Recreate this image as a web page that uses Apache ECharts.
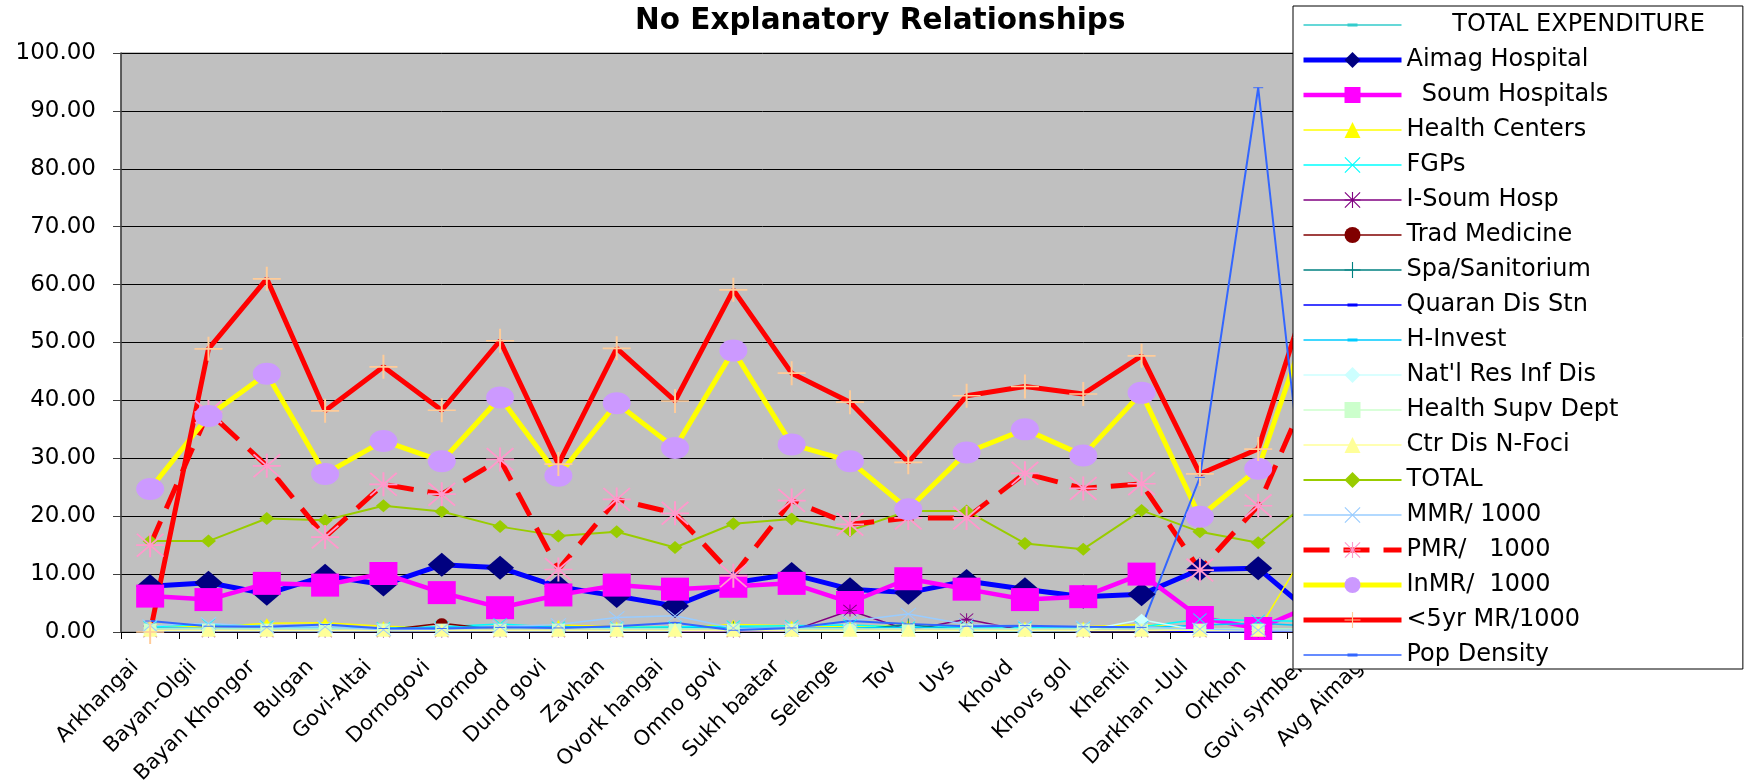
<!DOCTYPE html>
<html>
<head>
<meta charset="utf-8">
<script src="https://cdn.jsdelivr.net/npm/echarts@6/dist/echarts.min.js"></script>
<style>
html,body{margin:0;padding:0;background:#fff;}
#chart{width:1763px;height:781px;}
</style>
</head>
<body>
<div id="chart"></div>
<script>
// ---- data ----
const categories = ['Arkhangai','Bayan-Olgii','Bayan Khongor','Bulgan','Govi-Altai','Dornogovi','Dornod','Dund govi','Zavhan','Ovork hangai','Omno govi','Sukh baatar','Selenge','Tov','Uvs','Khovd','Khovs gol','Khentii','Darkhan -Uul','Orkhon','Govi symber','Avg Aimag'];
const yTicks = [0,10,20,30,40,50,60,70,80,90,100];

const totalExpenditure = [0.5,0.5,0.5,0.5,0.5,0.5,0.5,0.5,0.5,0.5,0.5,0.5,0.5,0.5,0.5,0.5,0.5,0.5,0.5,0.5,0.5,0.5];
const aimagHospital   = [7.9,8.5,6.6,9.7,8.2,11.6,11.1,7.8,6.2,4.5,8.5,10.0,7.4,6.8,8.8,7.4,6.1,6.5,10.8,11.0,2.5,8.2];
const soumHospitals   = [6.2,5.6,8.4,8.1,10.1,6.8,4.2,6.4,8.1,7.4,7.9,8.4,5.1,9.2,7.4,5.6,6.1,10.0,2.5,0.6,4.9,6.6];
const healthCenters   = [1.2,0.8,1.5,1.6,1.0,0.7,0.8,1.2,0.9,0.8,1.3,1.1,0.9,1.2,1.1,0.9,0.9,1.3,0.5,0.3,17.0,1.5];
const fgps            = [0.9,1.3,1.0,0.8,0.7,0.9,1.4,0.8,0.8,0.9,1.0,1.1,1.2,0.8,0.9,0.8,0.8,0.9,2.2,2.0,1.8,1.0];
const iSoumHosp       = [0.1,0.1,0.1,0.1,0.1,0.1,0.1,0.1,0.1,0.1,0.1,0.2,3.7,0.3,2.2,0.2,0.1,0.1,0.1,0.1,0.1,0.4];
const tradMedicine    = [0.3,0.3,0.3,0.3,0.3,1.5,0.4,0.3,0.3,0.3,0.3,0.3,0.3,0.3,0.3,0.3,0.3,0.3,0.2,0.2,0.2,0.3];
const spaSanitorium   = [0.2,0.2,0.2,0.2,0.2,0.2,0.2,0.2,0.2,0.2,0.8,0.2,0.3,1.3,0.2,0.2,0.2,0.2,0.2,0.2,0.2,0.3];
const quaranDisStn    = [0.4,0.3,0.4,0.4,0.3,0.3,0.4,0.3,0.3,0.3,0.4,0.3,0.3,0.3,0.3,0.3,0.3,0.4,0.0,0.0,0.3,0.3];
const hInvest         = [0.7,0.6,0.6,0.7,0.5,0.8,0.9,1.0,0.6,0.7,0.8,0.6,0.7,0.8,0.6,0.6,0.7,0.7,1.2,1.5,1.0,0.7];
const natlResInfDis   = [0.2,0.2,0.2,0.2,0.2,0.2,0.2,0.2,0.2,0.2,0.2,0.2,0.2,0.2,0.2,0.2,0.2,2.1,0.2,0.2,0.2,0.3];
const healthSupvDept  = [0.5,0.5,0.5,0.5,0.5,0.5,0.5,0.5,0.5,0.5,0.5,0.5,0.5,0.5,0.5,0.5,0.5,0.5,0.5,0.5,0.5,0.5];
const ctrDisNFoci     = [0.3,0.3,0.3,0.3,0.3,0.3,0.3,0.3,0.3,0.3,0.3,0.3,0.3,0.3,0.3,0.3,0.3,0.3,0.3,0.3,0.3,0.3];
const totalSeries     = [15.7,15.7,19.6,19.3,21.8,20.8,18.2,16.6,17.3,14.6,18.7,19.5,17.5,20.9,20.9,15.3,14.3,21.0,17.3,15.4,23.6,18.2];
const mmr             = [1.1,1.5,0.8,0.9,0.4,0.5,0.9,1.3,2.5,2.8,0.7,0.6,1.9,3.1,1.3,1.0,0.9,0.8,0.5,0.3,0.4,1.2];
const pmr             = [15.0,38.0,28.7,16.4,25.5,23.8,29.8,10.8,22.9,20.5,9.7,22.7,18.6,19.7,19.7,27.4,24.8,25.6,10.7,21.8,45.0,22.0];
const inmr            = [24.7,37.3,44.6,27.3,33.0,29.5,40.5,27.0,39.5,31.8,48.6,32.4,29.5,21.2,31.0,35.0,30.5,41.3,19.9,28.2,57.5,33.0];
const u5mr            = [0.0,48.9,61.0,38.2,45.8,38.3,50.3,29.0,49.0,39.9,59.1,44.7,39.7,29.3,40.8,42.4,41.1,47.7,27.3,31.6,63.0,43.0];
const popDensity      = [1.9,1.0,0.9,1.3,0.6,0.6,0.8,0.7,1.0,1.6,0.3,0.7,1.9,1.4,1.0,1.1,0.9,0.8,26.7,94.0,3.5,7.2];

// ---- marker shapes ----
const PLUS_P = 'M-0.7,-10L0.7,-10L0.7,-0.7L10,-0.7L10,0.7L0.7,0.7L0.7,10L-0.7,10L-0.7,0.7L-10,0.7L-10,-0.7L-0.7,-0.7Z';
const X_P = 'M-10,-9L-9,-10L10,9L9,10ZM9,-10L10,-9L-9,10L-10,9Z';
const PLUS = 'path://' + PLUS_P;
const XMARK = 'path://' + X_P;
const STAR = 'path://' + PLUS_P + X_P;
const DASH = 'path://M0,0L10,0L10,3L0,3Z';
// legend icon for dash-marker series: thin line with a short dash in the middle (98 x 20 box)
const DASH_ICON = 'path://M0,0L0.01,0L0,0.01ZM98,20L97.99,20L98,19.99ZM0,9.3L98,9.3L98,10.7L0,10.7ZM44,8.5L54,8.5L54,11.5L44,11.5Z';

const defs = [
  {name:'      TOTAL EXPENDITURE', data: totalExpenditure, color:'#33CCCC', width:1.5, symbol:DASH, size:[10,3], mcolor:'#33CCCC', keep:true, icon:DASH_ICON},
  {name:'Aimag Hospital', data: aimagHospital, color:'#0000FF', width:5, symbol:'diamond', size:[28,24], mcolor:'#000080'},
  {name:'  Soum Hospitals', data: soumHospitals, color:'#FF00FF', width:4.5, symbol:'rect', size:[28,23], mcolor:'#FF00FF'},
  {name:'Health Centers', data: healthCenters, color:'#FFFF00', width:1.5, symbol:'triangle', size:[12,10], mcolor:'#FFFF00'},
  {name:'FGPs', data: fgps, color:'#00FFFF', width:1.5, symbol:XMARK, size:[14,12], mcolor:'#00FFFF'},
  {name:'I-Soum Hosp', data: iSoumHosp, color:'#800080', width:1.5, symbol:STAR, size:[14,12], mcolor:'#800080'},
  {name:'Trad Medicine', data: tradMedicine, color:'#800000', width:1.5, symbol:'circle', size:[12,10], mcolor:'#800000'},
  {name:'Spa/Sanitorium', data: spaSanitorium, color:'#008080', width:1.5, symbol:PLUS, size:[12,12], mcolor:'#008080'},
  {name:'Quaran Dis Stn', data: quaranDisStn, color:'#0000FF', width:1.5, symbol:DASH, size:[10,3], mcolor:'#0000FF', keep:true, icon:DASH_ICON},
  {name:'H-Invest', data: hInvest, color:'#00CCFF', width:1.5, symbol:DASH, size:[10,3], mcolor:'#00CCFF', keep:true, icon:DASH_ICON},
  {name:"Nat'l Res Inf Dis", data: natlResInfDis, color:'#CCFFFF', width:1.5, symbol:'diamond', size:[14,12], mcolor:'#CCFFFF'},
  {name:'Health Supv Dept', data: healthSupvDept, color:'#CCFFCC', width:1.5, symbol:'rect', size:[13,11], mcolor:'#CCFFCC'},
  {name:'Ctr Dis N-Foci', data: ctrDisNFoci, color:'#FFFF99', width:1.5, symbol:'triangle', size:[15,13], mcolor:'#FFFF99'},
  {name:'TOTAL', data: totalSeries, color:'#99CC00', width:2, symbol:'diamond', size:[15,13], mcolor:'#99CC00'},
  {name:'MMR/ 1000', data: mmr, color:'#99CCFF', width:1.5, symbol:XMARK, size:[16,13], mcolor:'#99CCFF'},
  {name:'PMR/   1000', data: pmr, color:'#FF0000', width:5, symbol:STAR, size:[28,24], mcolor:'#FF99CC', dash:[26,14]},
  {name:'InMR/  1000', data: inmr, color:'#FFFF00', width:5, symbol:'circle', size:[28,22], mcolor:'#CC99FF'},
  {name:'<5yr MR/1000', data: u5mr, color:'#FF0000', width:5, symbol:PLUS, size:[28,24], mcolor:'#FFCC99'},
  {name:'Pop Density', data: popDensity, color:'#3366FF', width:2, symbol:DASH, size:[10,3], mcolor:'#3366FF', keep:true, icon:DASH_ICON}
];

const FONT = 'DejaVu Sans';
const series = defs.map(d => ({
  name: d.name,
  type: 'line',
  data: d.data,
  symbol: d.symbol,
  symbolSize: d.size,
  symbolKeepAspect: !!d.keep,
  showSymbol: true,
  showAllSymbol: true,
  lineStyle: {color: d.color, width: d.width, type: d.dash || 'solid', cap: 'butt'},
  itemStyle: {color: d.mcolor, borderWidth: 0},
  emphasis: {disabled: true},
  animation: false
}));

const legendData = defs.map(d => {
  const item = {
    name: d.name,
    itemStyle: {color: d.mcolor, borderWidth: 0},
    lineStyle: {color: d.color, width: d.width, type: d.dash || 'solid', cap: 'butt'}
  };
  if (d.icon) item.icon = d.icon;
  return item;
});

const chart = echarts.init(document.getElementById('chart'), null, {renderer: 'canvas'});
chart.setOption({
  animation: false,
  backgroundColor: '#ffffff',
  title: {
    text: 'No Explanatory Relationships',
    left: 630, top: 1,
    textStyle: {fontFamily: FONT, fontSize: 29.5, fontWeight: 'bold', color: '#000'}
  },
  grid: {
    left: 121, top: 53, right: 359, bottom: 149,
    show: true, backgroundColor: '#C0C0C0', borderColor: '#808080', borderWidth: 1,
    containLabel: false,
    outerBoundsMode: 'none'
  },
  legend: {
    orient: 'vertical',
    left: 1293, top: 6,
    backgroundColor: '#ffffff', borderColor: '#000000', borderWidth: 1,
    padding: [7, 38, 2, 8],
    itemWidth: 98, itemHeight: 20, itemGap: 11,
    symbolKeepAspect: true,
    textStyle: {fontFamily: FONT, fontSize: 24, color: '#000', lineHeight: 20},
    data: legendData,
    selectedMode: false
  },
  xAxis: {
    type: 'category',
    data: categories,
    boundaryGap: true,
    axisLine: {lineStyle: {color: '#000', width: 1}},
    axisTick: {show: true, length: 7, lineStyle: {color: '#000'}},
    axisLabel: {interval: 0, rotate: 45, margin: 17, padding: [0, 21, 42, 0], fontFamily: FONT, fontSize: 21, color: '#000'}
  },
  yAxis: {
    type: 'value',
    min: yTicks[0], max: yTicks[yTicks.length - 1], interval: 10,
    axisLine: {show: true, lineStyle: {color: '#404040', width: 1.5}},
    axisTick: {show: true, length: 8, lineStyle: {color: '#404040'}},
    axisLabel: {margin: 25, fontFamily: FONT, fontSize: 23, color: '#000', formatter: v => v.toFixed(2)},
    splitLine: {show: true, lineStyle: {color: '#000', width: 1}}
  },
  series: series
});
</script>
</body>
</html>
